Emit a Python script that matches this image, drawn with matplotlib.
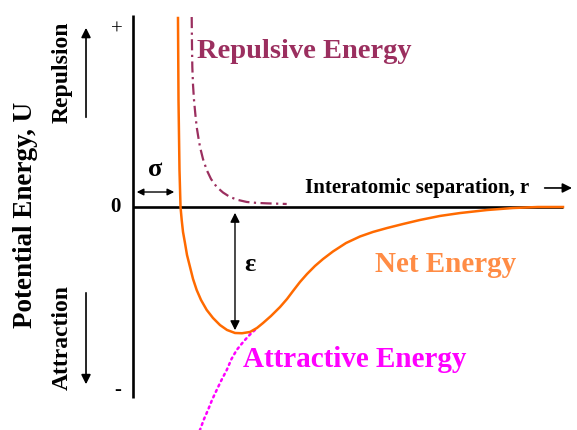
import matplotlib
matplotlib.use("Agg")
import matplotlib.pyplot as plt

# curves (r in units of sigma, U in units of epsilon)
net_r = [0.957, 0.968, 0.989, 1.011, 1.036, 1.064, 1.106, 1.149, 1.213, 1.277,
         1.355, 1.447, 1.568, 1.702, 1.851, 2.000, 2.170, 2.319, 2.489, 2.638,
         2.766, 2.936, 3.128, 3.277, 3.404, 3.553, 3.702, 3.872, 4.043, 4.255,
         4.532, 4.830, 5.106, 5.404, 5.745, 6.106, 6.532, 6.957, 7.532, 8.085,
         8.617, 9.149]
net_U = [1.500, 0.849, 0.294, 0.000, -0.103, -0.198, -0.286, -0.381, -0.476, -0.571,
         -0.659, -0.738, -0.817, -0.881, -0.937, -0.976, -1.000, -1.002, -0.992, -0.960,
         -0.921, -0.865, -0.794, -0.730, -0.667, -0.595, -0.532, -0.468, -0.413, -0.353,
         -0.286, -0.234, -0.198, -0.167, -0.135, -0.103, -0.071, -0.048, -0.024, -0.008,
         0.000, 0.000]

rep_r = [1.249, 1.255, 1.262, 1.277, 1.298, 1.326, 1.355, 1.389, 1.426, 1.489,
         1.568, 1.660, 1.781, 1.915, 2.064, 2.234, 2.419, 2.617, 2.845, 3.270]
rep_U = [1.508, 1.286, 1.111, 0.968, 0.849, 0.738, 0.635, 0.556, 0.476, 0.381,
         0.294, 0.222, 0.159, 0.115, 0.079, 0.056, 0.040, 0.033, 0.029, 0.024]

att_r = [2.596, 2.511, 2.419, 2.319, 2.206, 2.096, 1.994, 1.883, 1.781, 1.681,
         1.596, 1.511, 1.440, 1.394]
att_U = [-0.976, -1.004, -1.040, -1.083, -1.135, -1.206, -1.294, -1.373, -1.452, -1.532,
         -1.611, -1.683, -1.754, -1.802]

serif = "Liberation Serif"

fig = plt.figure(figsize=(5.77, 4.30), dpi=100)
ax = fig.add_axes([0, 0, 1, 1])
ax.set_xlim(-2.830, 9.447)
ax.set_ylim(-1.770, 1.643)
ax.axis("off")

# axes
ax.plot([0, 0], [1.524, -1.516], color="black", lw=1.9, solid_capstyle="butt")
ax.plot([0, 9.15], [0, 0], color="black", lw=1.9, solid_capstyle="butt")

# curves
ax.plot(rep_r, rep_U, color="#9B2F5F", lw=1.6, linestyle=(0, (5, 2, 1, 2)))
ax.plot(att_r, att_U, color="#FF00FF", lw=1.8, linestyle=(0, (0.8, 1.6)),
        dash_capstyle="round")
ax.plot(net_r, net_U, color="#FF6A00", lw=1.8, solid_joinstyle="round")

# labels
ax.text(1.36, 1.183, "Repulsive Energy", color="#9B2F5F", fontsize=20.5,
        fontweight="bold", family=serif, va="baseline", ha="left")
ax.text(5.15, -0.516, "Net Energy", color="#FF8C45", fontsize=21,
        fontweight="bold", family=serif, va="baseline", ha="left")
ax.text(2.34, -1.27, "Attractive Energy", color="#FF00FF", fontsize=21,
        fontweight="bold", family=serif, va="baseline", ha="left")
ax.text(3.66, 0.111, "Interatomic separation, r", color="black", fontsize=15,
        fontweight="bold", family=serif, va="baseline", ha="left")
ax.annotate("", xy=(9.40, 0.151), xytext=(8.70, 0.151),
            arrowprops=dict(arrowstyle="-|>", color="black", lw=1.2, mutation_scale=14))

ax.text(-2.298, -0.063, "Potential Energy, U", rotation=90, fontsize=19.5,
        fontweight="bold", family=serif, ha="center", va="center")
ax.text(-1.511, 1.071, "Repulsion", rotation=90, fontsize=17,
        fontweight="bold", family=serif, ha="center", va="center")
ax.text(-1.511, -1.032, "Attraction", rotation=90, fontsize=17,
        fontweight="bold", family=serif, ha="center", va="center")
ax.annotate("", xy=(-1.0, 1.444), xytext=(-1.0, 0.690),
            arrowprops=dict(arrowstyle="-|>", color="black", lw=1.2, mutation_scale=14))
ax.annotate("", xy=(-1.0, -1.429), xytext=(-1.0, -0.659),
            arrowprops=dict(arrowstyle="-|>", color="black", lw=1.2, mutation_scale=14))

ax.text(-0.34, 1.405, "+", fontsize=15, family=serif, ha="center", va="center")
ax.text(-0.383, 0.0, "0", fontsize=15, fontweight="bold", family=serif,
        ha="center", va="center")
ax.text(-0.32, -1.452, "-", fontsize=15, fontweight="bold", family=serif,
        ha="center", va="center")

# sigma and epsilon markers
ax.text(0.468, 0.30, "σ", fontsize=19, fontweight="bold", family=serif,
        ha="center", va="center")
ax.annotate("", xy=(0.02, 0.119), xytext=(0.936, 0.119),
            arrowprops=dict(arrowstyle="<|-|>", color="black", lw=1.0, mutation_scale=10))
ax.text(2.489, -0.46, "ε", fontsize=19, fontweight="bold", family=serif,
        ha="center", va="center")
ax.annotate("", xy=(2.17, -0.024), xytext=(2.17, -1.0),
            arrowprops=dict(arrowstyle="<|-|>", color="black", lw=1.0, mutation_scale=14))

fig.savefig("out.png", dpi=100)
